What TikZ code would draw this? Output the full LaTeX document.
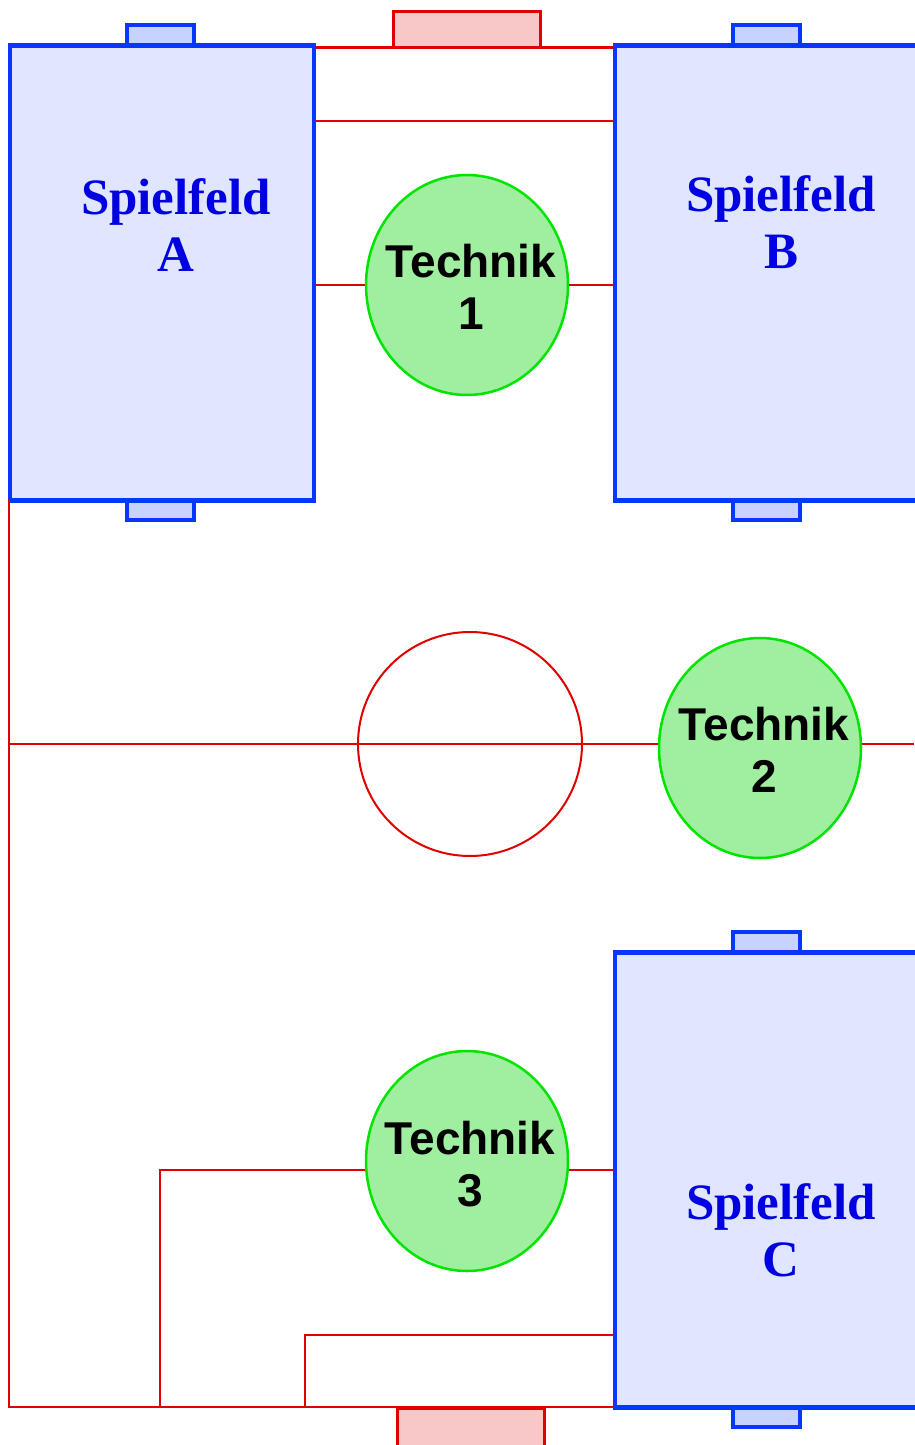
\documentclass[tikz,border=0pt]{standalone}
\usepackage{fontspec}
\setmainfont{Liberation Serif}
\newfontfamily\techfont{Liberation Sans}
\usetikzlibrary{shapes.geometric}
\definecolor{fblue}{RGB}{5,55,255}
\definecolor{ffill}{RGB}{224,230,255}
\definecolor{gfill}{RGB}{200,210,255}
\definecolor{tblue}{RGB}{0,0,225}
\definecolor{lred}{RGB}{225,0,0}
\definecolor{rfill}{RGB}{248,200,200}
\definecolor{tgreen}{RGB}{0,228,0}
\definecolor{tfill}{RGB}{160,238,160}
\tikzset{
  field/.style={draw=fblue, fill=ffill, line width=4.5pt, rectangle, inner sep=0pt},
  bgoal/.style={draw=fblue, fill=gfill, line width=4.5pt, rectangle, inner sep=0pt, minimum width=67pt, minimum height=20pt},
  rgoal/.style={draw=lred, fill=rfill, line width=3pt, rectangle, inner sep=0pt},
  tech/.style={draw=tgreen, fill=tfill, line width=2.5pt, ellipse, inner sep=0pt, minimum width=202pt, minimum height=220pt},
  fieldlabel/.style={text=tblue, font=\bfseries\fontsize{51}{57}\selectfont, align=center},
  techlabel/.style={text=black, font=\techfont\bfseries\fontsize{46}{52}\selectfont, align=center},
  redline/.style={draw=lred, line width=2pt},
}
\begin{document}
\begin{tikzpicture}[x=1pt, y=-1pt]
\useasboundingbox (0,0) rectangle (914,1445);
% goals
\node[bgoal] (gAt) at (160.5,35) {};
\node[bgoal] (gAb) at (160.5,510) {};
\node[bgoal] (gBt) at (766.5,35) {};
\node[bgoal] (gBb) at (766.5,510) {};
\node[bgoal] (gCt) at (766.5,942) {};
\node[bgoal] (gCb) at (766.5,1417) {};
\node[rgoal, minimum width=147pt, minimum height=36pt] (rgt) at (467,30) {};
\node[rgoal, minimum width=147pt, minimum height=40pt] (rgb) at (470.5,1428) {};
% fields
\node[field, minimum width=304pt, minimum height=455pt] (A) at (162,273) {};
\node[field, minimum width=310pt, minimum height=455pt] (B) at (770,273) {};
\node[field, minimum width=310pt, minimum height=455pt] (C) at (770,1180) {};
% red lines
\coordinate (L1) at (9,500);
\coordinate (L2) at (9,744);
\coordinate (L3) at (9,1407);
\coordinate (R2) at (914,744);
\coordinate (P1) at (160,1170);
\coordinate (P2) at (160,1407);
\coordinate (Q1) at (305,1335);
\coordinate (Q2) at (305,1407);
\node[circle, draw=lred, line width=2pt, minimum size=224pt, inner sep=0pt] (cc) at (470,744) {};
\node[tech] (T1) at (467,285) {};
\node[tech] (T2) at (760,748) {};
\node[tech] (T3) at (467,1161) {};
\draw[redline, line width=3pt] (A.north east |- 0,48) -- (B.north west |- 0,48);
\draw[redline] (A.east |- 0,121) -- (B.west |- 0,121);
\draw[redline] (A.east |- T1.west) -- (T1.west);
\draw[redline] (T1.east) -- (B.west |- T1.east);
\draw[redline] (L1) -- (L3) -- (C.south west |- L3);
\draw[redline] (L2) -- (T2.west |- L2);
\draw[redline] (T2.east |- R2) -- (R2);
\draw[redline] (P2) -- (P1) -- (T3.west |- P1);
\draw[redline] (T3.east |- P1) -- (C.west |- P1);
\draw[redline] (Q2) -- (Q1) -- (C.west |- Q1);
% labels
\node[fieldlabel] (lA) at (176,225) {Spielfeld\\A};
\node[fieldlabel] (lB) at (781,222) {Spielfeld\\B};
\node[fieldlabel] (lC) at (781,1230) {Spielfeld\\C};
\node[techlabel] (lT1) at (471,287) {Technik\\1};
\node[techlabel] (lT2) at (764,750) {Technik\\2};
\node[techlabel] (lT3) at (470,1164) {Technik\\3};
\end{tikzpicture}
\end{document}
